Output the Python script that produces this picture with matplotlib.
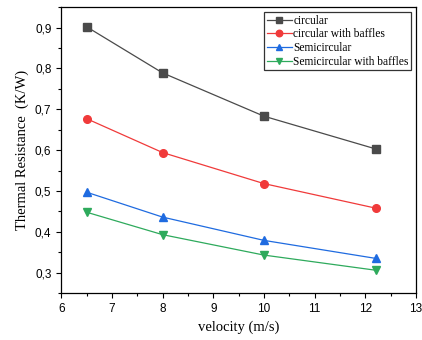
import matplotlib
matplotlib.use("Agg")
import matplotlib.pyplot as plt
from matplotlib.ticker import MultipleLocator

velocity = [6.5, 8, 10, 12.2]
circular = [0.902, 0.789, 0.683, 0.603]
circular_baffles = [0.677, 0.594, 0.518, 0.458]
semicircular = [0.497, 0.436, 0.379, 0.335]
semicircular_baffles = [0.448, 0.393, 0.343, 0.306]

series = [
    ("circular", circular, "#4a4a4a", "s"),
    ("circular with baffles", circular_baffles, "#f03a3a", "o"),
    ("Semicircular", semicircular, "#1f6be0", "^"),
    ("Semicircular with baffles", semicircular_baffles, "#2eaa5c", "v"),
]

fig = plt.figure(figsize=(4.22, 3.4), dpi=100)
ax = fig.add_axes([0.145, 0.138, 0.841, 0.841])

for label, vals, color, marker in series:
    ax.plot(velocity, vals, color=color, marker=marker, markersize=5.5,
            linewidth=0.9, label=label)

ax.set_xlim(6, 13)
ax.set_ylim(0.25, 0.95)
ax.xaxis.set_major_locator(MultipleLocator(1))
ax.xaxis.set_minor_locator(MultipleLocator(0.5))
ax.yaxis.set_minor_locator(MultipleLocator(0.05))
ax.set_yticks([0.3, 0.4, 0.5, 0.6, 0.7, 0.8, 0.9])
ax.set_yticklabels(["0,3", "0,4", "0,5", "0,6", "0,7", "0,8", "0,9"])
ax.tick_params(which="both", direction="out", top=False, right=False,
               labelsize=8.5, labelfontfamily="Liberation Sans")
ax.tick_params(which="major", length=3.5, width=0.8)
ax.tick_params(which="minor", length=2, width=0.8)
for s in ax.spines.values():
    s.set_linewidth(0.9)

ax.set_xlabel("velocity (m/s)", fontfamily="Liberation Serif", fontsize=10.5)
ax.set_ylabel("Thermal Resistance  (K/W)", fontfamily="Liberation Serif", fontsize=10.5)

leg = ax.legend(loc="upper right", prop={"family": "Liberation Serif", "size": 8.3},
                frameon=True, fancybox=False, edgecolor="black",
                borderaxespad=0.45, handlelength=2.2, handletextpad=0.1,
                labelspacing=0.15, borderpad=0.2, markerscale=0.85)
leg.get_frame().set_linewidth(0.9)

fig.savefig("out.png", dpi=100)
